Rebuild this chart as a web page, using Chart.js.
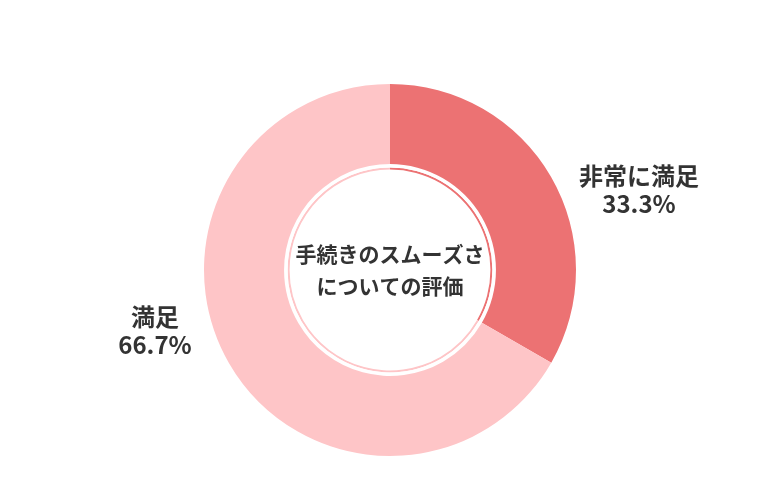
<!DOCTYPE html>
<html lang="ja">
<head>
<meta charset="utf-8">
<title>手続きのスムーズさについての評価</title>
<script src="https://cdn.jsdelivr.net/npm/chart.js@4.4.1/dist/chart.umd.min.js"></script>
<style>
  html, body { margin: 0; padding: 0; background: #fff; }
  #wrap { width: 780px; height: 500px; }
</style>
</head>
<body>
<div id="wrap"><canvas id="evalChart" width="780" height="500"></canvas></div>
<script>
const labels = ["非常に満足", "満足"];
const values = [33.3, 66.7];
const colors = ["#ec7273", "#fec5c7"];
const centerLines = ["手続きのスムーズさ", "についての評価"];

// label anchors relative to the doughnut centre (layout only)
const labelOffsets = [[249, -80], [-235, 61]];

const FONT = "'Noto Sans CJK JP', 'Noto Sans', sans-serif";

const textPlugin = {
  id: "textPlugin",
  afterDraw(chart) {
    const ctx = chart.ctx;
    const arc = chart.getDatasetMeta(0).data[0];
    if (!arc) return;
    const cx = arc.x;
    const cy = arc.y;

    ctx.save();
    ctx.fillStyle = "#333333";
    ctx.textAlign = "center";
    ctx.textBaseline = "middle";

    ctx.font = "bold 21px " + FONT;
    ctx.fillText(centerLines[0], cx, cy - 16);
    ctx.fillText(centerLines[1], cx, cy + 16);

    ctx.font = "bold 24px " + FONT;
    labels.forEach((lab, i) => {
      const x = cx + labelOffsets[i][0];
      const y = cy + labelOffsets[i][1];
      ctx.fillText(lab, x, y - 14);
      ctx.fillText(values[i].toFixed(1) + "%", x, y + 14);
    });
    ctx.restore();
  }
};

new Chart(document.getElementById("evalChart"), {
  type: "doughnut",
  data: {
    labels: labels,
    datasets: [
      { data: values, backgroundColor: colors, borderWidth: 0, weight: 80 },
      { data: values, backgroundColor: ["#ffffff", "#ffffff"], borderWidth: 0, weight: 3.5 },
      { data: values, backgroundColor: colors, borderWidth: 0, weight: 2 }
    ]
  },
  options: {
    responsive: false,
    animation: false,
    cutout: "54%",
    hoverOffset: 0,
    layout: { padding: { top: 84, bottom: 44, left: 0, right: 0 } },
    plugins: {
      legend: { display: false },
      tooltip: { enabled: false }
    }
  },
  plugins: [textPlugin]
});
</script>
</body>
</html>
